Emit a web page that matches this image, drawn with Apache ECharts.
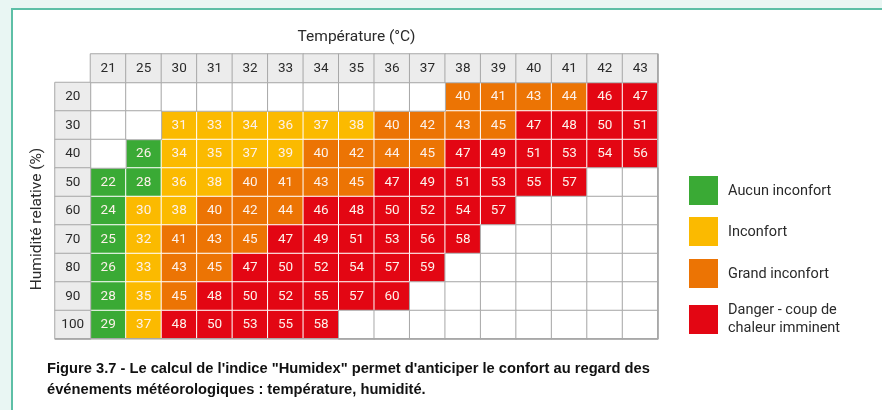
<!DOCTYPE html>
<html><head><meta charset="utf-8">
<script src="https://cdn.jsdelivr.net/npm/echarts@6/dist/echarts.min.js"></script>
<style>
html,body{margin:0;padding:0;background:#e9f6f3;overflow:hidden;}
#frame{position:absolute;left:11px;top:8px;width:871px;height:402px;background:#fff;border-left:2px solid #5dbfa6;border-top:2px solid #5dbfa6;box-sizing:border-box;}
#c{position:absolute;left:0;top:0;width:882px;height:410px;}
</style></head>
<body><div id="frame"></div><div id="c"></div>
<script>
// Categories
const temperatures = [21,25,30,31,32,33,34,35,36,37,38,39,40,41,42,43];
const humidities = [20,30,40,50,60,70,80,90,100];
// Humidex values per humidity row (null = empty cell)
const h20  = [null,null,null,null,null,null,null,null,null,null,40,41,43,44,46,47];
const h30  = [null,null,31,33,34,36,37,38,40,42,43,45,47,48,50,51];
const h40  = [null,26,34,35,37,39,40,42,44,45,47,49,51,53,54,56];
const h50  = [22,28,36,38,40,41,43,45,47,49,51,53,55,57,null,null];
const h60  = [24,30,38,40,42,44,46,48,50,52,54,57,null,null,null,null];
const h70  = [25,32,41,43,45,47,49,51,53,56,58,null,null,null,null,null];
const h80  = [26,33,43,45,47,50,52,54,57,59,null,null,null,null,null,null];
const h90  = [28,35,45,48,50,52,55,57,60,null,null,null,null,null,null,null];
const h100 = [29,37,48,50,53,55,58,null,null,null,null,null,null,null,null,null];
// Comfort classes
const classNames = ['Aucun inconfort','Inconfort','Grand inconfort','Danger - coup de\nchaleur imminent'];
const classLowerBounds = [30,40,46];
const classColors = ['#3aaa35','#fbba00','#ec7404','#e30613'];

const rows = [h20,h30,h40,h50,h60,h70,h80,h90,h100];
const xCats = [''].concat(temperatures.map(String));
const yCats = [''].concat(humidities.map(String));
const GRID_LINE = '#a8a8a8';
const HEAD_FILL = '#ececec';
const FONT = 'Roboto, "Noto Sans", sans-serif';

function classOf(v){ let k=0; classLowerBounds.forEach(b=>{ if(v>=b) k++; }); return k; }

const colored=[], blank=[], headers=[];
rows.forEach((row,r)=>{
  row.forEach((v,c)=>{
    if(v!==null){
      colored.push({value:[c+1,r+1,v], itemStyle:{color:classColors[classOf(v)],borderColor:'#ffffff',borderWidth:1},
        label:{show:true,color:'#fdf1ea'}});
    } else {
      blank.push({value:[c+1,r+1,0], itemStyle:{color:'#ffffff',borderColor:GRID_LINE,borderWidth:1}, label:{show:false}});
    }
  });
});
temperatures.forEach((t,i)=>headers.push({value:[i+1,0,t], itemStyle:{color:HEAD_FILL,borderColor:GRID_LINE,borderWidth:1}, label:{show:true,color:'#2a2a2a'}}));
humidities.forEach((h,j)=>headers.push({value:[0,j+1,h], itemStyle:{color:HEAD_FILL,borderColor:GRID_LINE,borderWidth:1}, label:{show:true,color:'#2a2a2a'}}));

const chart = echarts.init(document.getElementById('c'), null, {renderer:'canvas'});

const legendGraphics = [];
const legendTops = [176,217,259,305];
classNames.forEach((n,i)=>{
  legendGraphics.push({type:'rect', left:689, top:legendTops[i], shape:{width:29,height:29}, style:{fill:classColors[i]}});
  legendGraphics.push({type:'text', left:728, top: i===3 ? legendTops[i]-4 : legendTops[i]+6,
    style:{text:n, font:'14.5px '+FONT, fill:'#2a2a2a', lineHeight:18}});
});

chart.setOption({
  backgroundColor:'transparent',
  animation:false,
  grid:{left:55, top:54, width:603, height:285, containLabel:false},
  xAxis:{type:'category', data:xCats, axisLine:{show:false}, axisTick:{show:false}, axisLabel:{show:false}, splitLine:{show:false},
    name:'Température (°C)', nameLocation:'middle', nameGap:9, position:'top',
    nameTextStyle:{fontFamily:FONT, fontSize:15.5, color:'#2a2a2a'}},
  yAxis:{type:'category', data:yCats, inverse:true, axisLine:{show:false}, axisTick:{show:false}, axisLabel:{show:false}, splitLine:{show:false}},
  series:[{
    type:'heatmap',
    data: colored.concat(blank).concat(headers),
    label:{show:true, fontFamily:FONT, fontSize:13.5, formatter:p=>p.value[2]},
    emphasis:{disabled:true},
    progressive:0
  }],
  graphic: legendGraphics.concat([
    {type:'rect', left:657, top:54, shape:{width:1.5,height:285}, style:{fill:GRID_LINE}, z:10},
    {type:'rect', left:55, top:338, shape:{width:603,height:1.5}, style:{fill:GRID_LINE}, z:10},
    {type:'text', x:37, y:219, rotation:Math.PI/2,
      style:{text:'Humidité relative (%)', font:'15.5px '+FONT, fill:'#2a2a2a', align:'center', verticalAlign:'middle'}},
    {type:'text', left:47, top:358,
      style:{text:'Figure 3.7 - Le calcul de l\'indice "Humidex" permet d\'anticiper le confort au regard des\névénements météorologiques : température, humidité.',
        font:'bold 14.7px "Liberation Sans Narrow", "Arial Narrow", "Liberation Sans", sans-serif', fill:'#111', lineHeight:21}}
  ])
});
</script>
</body></html>
